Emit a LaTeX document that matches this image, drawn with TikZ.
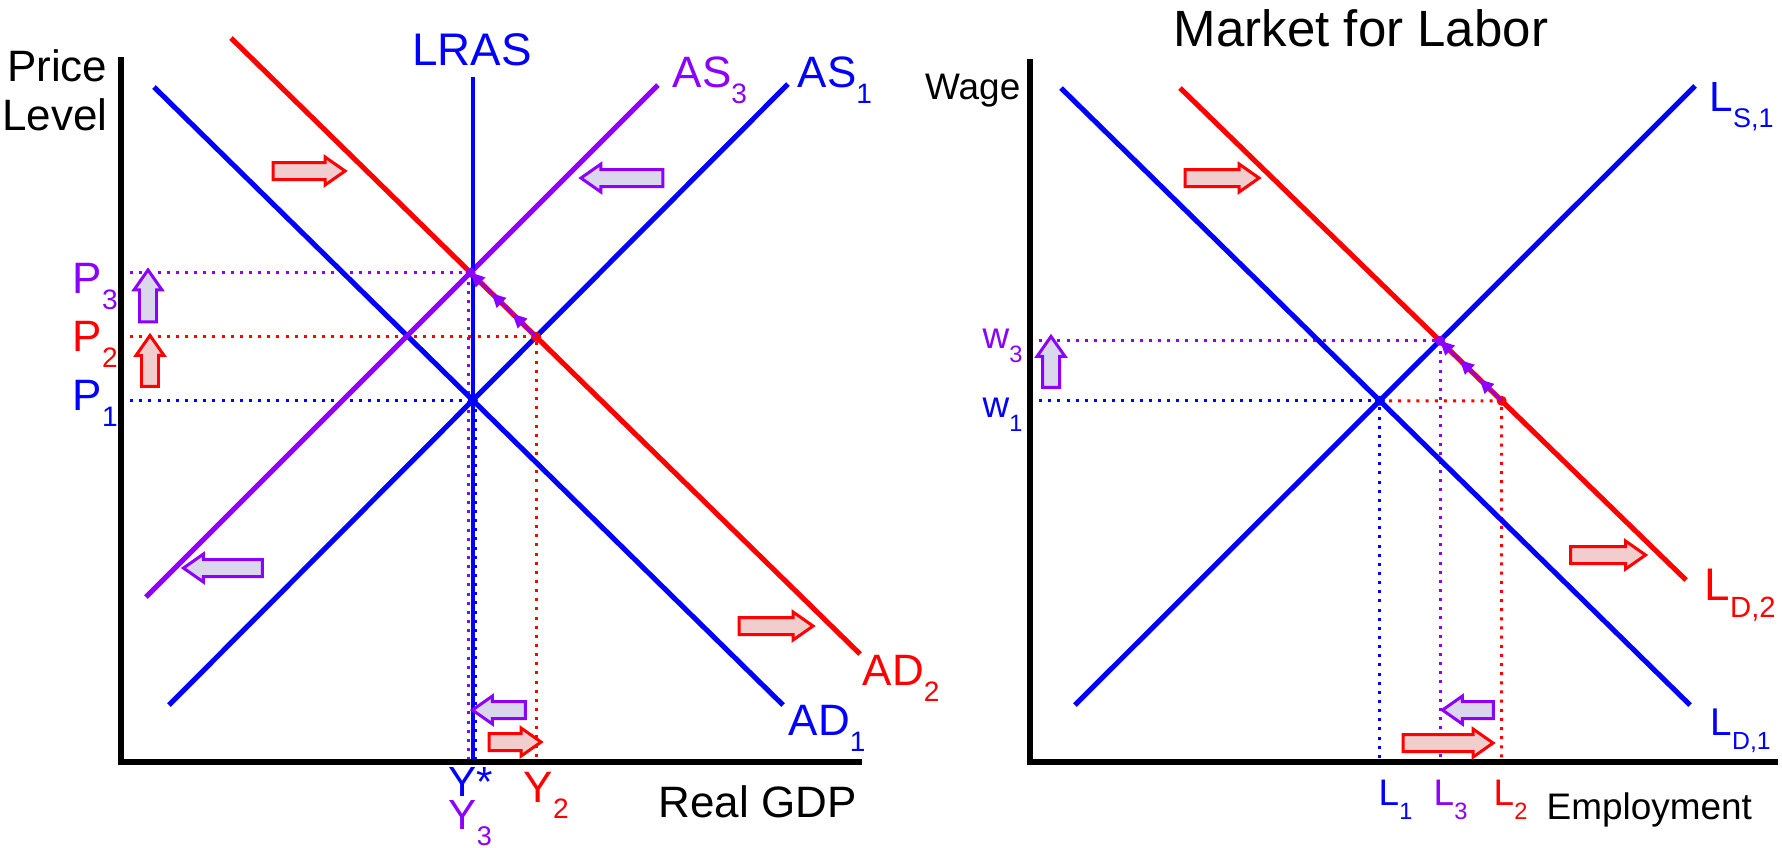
\documentclass[tikz,border=0pt]{standalone}
\usepackage{fontspec}
\setmainfont{Liberation Sans}
\usepackage{graphicx}
\usepackage{xcolor}
\definecolor{curveBlue}{RGB}{0,0,255}
\definecolor{shiftRed}{RGB}{255,0,0}
\definecolor{shiftViolet}{RGB}{140,0,255}
\definecolor{shiftRedFill}{RGB}{242,205,205}
\definecolor{shiftVioletFill}{RGB}{218,214,236}
\usepackage{tikz}
\usetikzlibrary{arrows.meta,shapes.arrows,calc}

\newcommand{\lowsub}[1]{\raisebox{-0.38em}{\scalebox{0.64}{#1}}}

\begin{document}
\begin{tikzpicture}[x=0.01cm, y=-0.01cm,
  curve/.style={line width=1.45pt},
  guide/.style={line width=0.85pt, dash pattern=on 0.85pt off 1.75pt},
  axisline/.style={line width=1.7pt},
  shiftarrow/.style={single arrow, draw=#1, fill=#1Fill, line width=0.85pt,
    inner sep=0.07cm, minimum width=0.27cm,
    single arrow head extend=0.055cm, single arrow tip angle=70},
  eqdot/.style={circle, fill=#1, inner sep=0pt, minimum size=0.1cm},
  movepath/.style={shiftViolet, line width=0.7pt, -{Triangle[length=4pt,width=3.8pt]}},
  lbl/.style={font=\fontsize{12.5}{14}\selectfont, text=#1, inner sep=0pt, anchor=base west},
  lblR/.style={font=\fontsize{10.5}{12}\selectfont, text=#1, inner sep=0pt, anchor=base west}]
  \useasboundingbox (0,0) rectangle (1782,847);

  % aggregate market: axes and curves
  \coordinate (O1) at (121,762);
  \coordinate (yTop1) at (121,57);
  \coordinate (xEnd1) at (862,762);
  \coordinate (lrasTop) at (0,77);
  \coordinate (ad1s) at (154,87);  \coordinate (ad1e) at (783,705);
  \coordinate (as1s) at (169,705); \coordinate (as1e) at (788,84);
  \coordinate (as3s) at (146,597); \coordinate (as3e) at (658,85);
  \coordinate (ad2s) at (231,38);  \coordinate (ad2e) at (860,654);
  \coordinate (eqA1) at (intersection of ad1s--ad1e and as1s--as1e);
  \coordinate (eqA2) at (intersection of ad2s--ad2e and as1s--as1e);
  \coordinate (eqA3) at (intersection of ad2s--ad2e and as3s--as3e);

  % labor market
  \coordinate (O2) at (1030,762);
  \coordinate (yTop2) at (1030,59);
  \coordinate (xEnd2) at (1778,762);
  \coordinate (ld1s) at (1061,88);  \coordinate (ld1e) at (1690,705);
  \coordinate (ls1s) at (1075,705); \coordinate (ls1e) at (1695,86);
  \coordinate (ld2s) at (1180,88);  \coordinate (ld2e) at (1686,580);
  \coordinate (eqL1) at (intersection of ld1s--ld1e and ls1s--ls1e);
  \coordinate (eqL3) at (intersection of ld2s--ld2e and ls1s--ls1e);
  \coordinate (wOne) at (O2 |- eqL1);
  \coordinate (eqL2) at (intersection of ld2s--ld2e and wOne--eqL1);

  % dotted guides
  \draw[guide, shiftViolet] (O1 |- eqA3) -- (eqA3);
  \draw[guide, shiftRed] (O1 |- eqA2) -- (eqA2) -- (eqA2 |- O1);
  \draw[guide, curveBlue] (O1 |- eqA1) -- (eqA1);
  \draw[guide, shiftViolet] ([xshift=-0.02cm]eqA3) -- ([xshift=-0.02cm]eqA3 |- O1);
  \draw[guide, curveBlue] ([xshift=0.03cm]eqA1) -- ([xshift=0.03cm]eqA1 |- O1);
  \draw[guide, shiftViolet] (O2 |- eqL3) -- (eqL3) -- (eqL3 |- O2);
  \draw[guide, curveBlue] (wOne) -- (eqL1) -- (eqL1 |- O2);
  \draw[guide, shiftRed] (eqL1) -- (eqL2) -- (eqL2 |- O2);

  % curves
  \draw[curve, curveBlue] (ad1s) -- (ad1e);
  \draw[curve, curveBlue] (as1s) -- (as1e);
  \draw[curve, shiftViolet] (as3s) -- (as3e);
  \draw[curve, shiftRed] (ad2s) -- (ad2e);
  \draw[curve, curveBlue, line width=1.2pt] (eqA1 |- lrasTop) -- (eqA1 |- O1);
  \draw[curve, curveBlue] (ld1s) -- (ld1e);
  \draw[curve, curveBlue] (ls1s) -- (ls1e);
  \draw[curve, shiftRed] (ld2s) -- (ld2e);

  \draw[axisline] (yTop1) -- (O1) -- (xEnd1);
  \draw[axisline] (yTop2) -- (O2) -- (xEnd2);

  % equilibria and the path back
  \node[eqdot=curveBlue] (dotA1) at (eqA1) {};
  \node[eqdot=shiftRed] (dotA2) at (eqA2) {};
  \node[eqdot=shiftViolet] (dotA3) at (eqA3) {};
  \node[eqdot=curveBlue] (dotL1) at (eqL1) {};
  \node[eqdot=shiftRed] (dotL2) at (eqL2) {};
  \node[eqdot=shiftViolet] (dotL3) at (eqL3) {};
  \foreach \a/\b in {0/0.36,0.36/0.68,0.68/1}{
    \draw[movepath] ($(eqA2)!\a!(eqA3)$) -- ($(eqA2)!\b!(eqA3)$);
    \draw[movepath] ($(eqL2)!\a!(eqL3)$) -- ($(eqL2)!\b!(eqL3)$);
  }

  % shift arrows
  \foreach \nm/\px/\py/\len/\rot/\cor in {
    shA1/303/171/72/0/shiftRed, shA2/628/178/82/180/shiftViolet,
    shA3/229/568/79/180/shiftViolet, shA4/770/626/74/0/shiftRed,
    shA5/505/710/53/180/shiftViolet, shA6/509/742/52/0/shiftRed,
    shA7/148/302/52/90/shiftViolet, shA8/150/367/51/90/shiftRed,
    shL1/1216/178/74/0/shiftRed, shL2/1602/555/75/0/shiftRed,
    shL3/1051/368/51/90/shiftViolet, shL4/1474/710/51/180/shiftViolet,
    shL5/1442/743/90/0/shiftRed%
  }{
    \node[shiftarrow=\cor, minimum height=\len*0.01cm, shape border rotate=\rot]
      (\nm) at (\px,\py) {};
  }

  % labels, aggregate market
  \node[lbl=black, anchor=base east] (priceLbl) at (108,81) {Price};
  \node[lbl=black, anchor=base east] (levelLbl) at (108,130) {Level};
  \node[lbl=curveBlue, anchor=base, font=\fontsize{13}{15}\selectfont] (lrasLbl) at (472,65) {LRAS};
  \node[lbl=shiftViolet] (as3Lbl) at (672,87) {AS\lowsub{3}};
  \node[lbl=curveBlue] (as1Lbl) at (797,87) {AS\lowsub{1}};
  \node[lbl=curveBlue] (ad1Lbl) at (788,735) {AD\lowsub{1}};
  \node[lbl=shiftRed] (ad2Lbl) at (862,685) {AD\lowsub{2}};
  \node[lbl=shiftViolet] (p3Lbl) at (72,293) {P\lowsub{3}};
  \node[lbl=shiftRed] (p2Lbl) at (72,351) {P\lowsub{2}};
  \node[lbl=curveBlue] (p1Lbl) at (72,410) {P\lowsub{1}};
  \node[lbl=curveBlue, anchor=north west, align=left, font=\fontsize{12}{9.4}\selectfont]
    (ystarLbl) at (448,767) {Y*\\\textcolor{shiftViolet}{Y\lowsub{3}}};
  \node[lbl=shiftRed] (y2Lbl) at (523,802) {Y\lowsub{2}};
  \node[lbl=black] (gdpLbl) at (658,817) {Real GDP};

  % labels, labor market
  \node[font=\fontsize{14.5}{17}\selectfont, inner sep=0pt, anchor=base] (title) at (1361,46) {Market for Labor};
  \node[lblR=black, anchor=base east] (wageLbl) at (1021,99) {Wage};
  \node[lblR=shiftViolet] (w3Lbl) at (982,348) {w\lowsub{3}};
  \node[lblR=curveBlue] (w1Lbl) at (982,417) {w\lowsub{1}};
  \node[lblR=curveBlue] (l1Lbl) at (1378,805) {L\lowsub{1}};
  \node[lblR=shiftViolet] (l3Lbl) at (1433,805) {L\lowsub{3}};
  \node[lblR=shiftRed] (l2Lbl) at (1493,805) {L\lowsub{2}};
  \node[lblR=black] (empLbl) at (1546,819) {Employment};
  \node[lblR=curveBlue, font=\fontsize{12}{14}\selectfont] (ls1Lbl) at (1709,111) {L\lowsub{S,1}};
  \node[lblR=shiftRed, font=\fontsize{13}{15}\selectfont] (ld2Lbl) at (1704,600) {L\lowsub{D,2}};
  \node[lblR=curveBlue, font=\fontsize{11}{13}\selectfont] (ld1Lbl) at (1710,735) {L\lowsub{D,1}};
\end{tikzpicture}
\end{document}
